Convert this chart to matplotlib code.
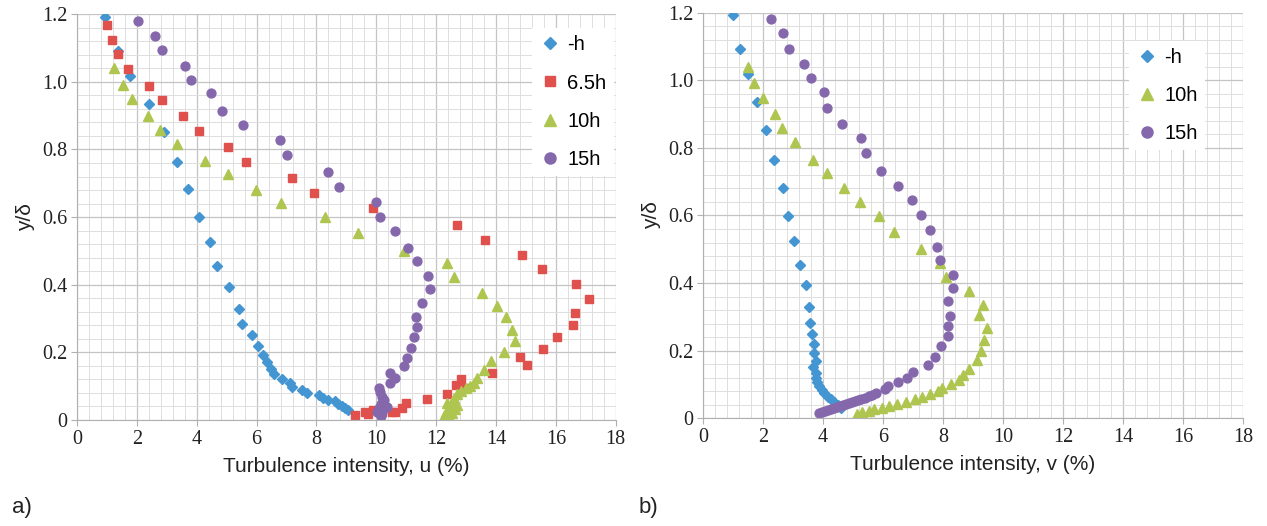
import numpy as np
import matplotlib
matplotlib.use('Agg')
import matplotlib.pyplot as plt
from matplotlib.ticker import MultipleLocator, FuncFormatter

# ---- data ----
# panel a) streamwise turbulence intensity u (%) vs y/delta
u_h_x = [0.94, 1.36, 1.77, 2.42, 2.91, 3.35, 3.71, 4.09, 4.43, 4.68, 5.09, 5.42, 5.50, 5.83, 6.06, 6.22,
         6.34, 6.47, 6.58, 6.86, 7.11, 7.17, 7.53, 7.69, 8.07, 8.23, 8.39, 8.62, 8.73, 8.84, 8.95, 9.05]
u_h_y = [1.192, 1.092, 1.017, 0.935, 0.852, 0.763, 0.683, 0.599, 0.525, 0.455, 0.394, 0.329, 0.284, 0.251,
         0.220, 0.193, 0.171, 0.152, 0.135, 0.121, 0.108, 0.098, 0.088, 0.080, 0.074, 0.066, 0.060, 0.055,
         0.047, 0.041, 0.035, 0.030]

u_65_x = [0.99, 1.16, 1.38, 1.71, 2.40, 2.85, 3.53, 4.06, 5.05, 5.65, 7.17, 7.93, 9.88, 12.68, 13.63, 14.86,
          15.55, 16.67, 17.11, 16.63, 16.58, 16.04, 15.57, 14.80, 15.03, 13.88, 12.84, 12.66, 12.95, 12.35,
          11.70, 10.98, 10.85, 10.62, 10.51, 10.20, 9.90, 9.72, 9.63, 9.29]
u_65_y = [1.168, 1.125, 1.081, 1.037, 0.989, 0.945, 0.900, 0.856, 0.807, 0.764, 0.715, 0.671, 0.626, 0.578,
          0.532, 0.488, 0.447, 0.402, 0.357, 0.316, 0.281, 0.245, 0.210, 0.185, 0.163, 0.140, 0.121, 0.104,
          0.095, 0.076, 0.061, 0.051, 0.036, 0.025, 0.023, 0.025, 0.030, 0.017, 0.023, 0.014]

u_10_x = [1.25, 1.52, 1.84, 2.36, 2.78, 3.33, 4.27, 5.06, 5.98, 6.81, 8.29, 9.39, 10.91, 12.36, 12.61, 13.53,
          14.04, 14.32, 14.54, 14.65, 14.26, 13.82, 13.59, 13.37, 13.26, 13.13, 12.98, 12.84, 12.70, 12.61,
          12.53, 12.37, 12.68, 12.48, 12.64, 12.34, 12.53, 12.42, 12.26]
u_10_y = [1.040, 0.990, 0.948, 0.900, 0.857, 0.817, 0.766, 0.726, 0.680, 0.641, 0.601, 0.552, 0.500, 0.463,
          0.422, 0.377, 0.338, 0.305, 0.267, 0.234, 0.201, 0.174, 0.148, 0.123, 0.110, 0.100, 0.094, 0.086,
          0.076, 0.064, 0.054, 0.049, 0.044, 0.036, 0.032, 0.025, 0.020, 0.012, 0.013]

u_15_x = [2.04, 2.60, 2.84, 3.62, 3.81, 4.47, 4.85, 5.56, 6.78, 7.00, 8.37, 8.74, 10.00, 10.11, 10.63, 11.06,
          11.37, 11.73, 11.81, 11.51, 11.31, 11.35, 11.25, 11.16, 11.04, 10.93, 10.47, 10.64, 10.45, 10.09,
          10.12, 10.20, 10.25, 10.14, 10.37, 10.09, 10.20, 10.03, 10.14]
u_15_y = [1.180, 1.137, 1.093, 1.047, 1.005, 0.966, 0.915, 0.871, 0.828, 0.785, 0.733, 0.689, 0.645, 0.601,
          0.558, 0.509, 0.469, 0.426, 0.386, 0.347, 0.304, 0.275, 0.244, 0.214, 0.183, 0.159, 0.138, 0.123,
          0.108, 0.096, 0.082, 0.069, 0.059, 0.046, 0.039, 0.036, 0.025, 0.025, 0.012]

# panel b) vertical turbulence intensity v (%) vs y/delta
v_h_x = [1.00, 1.22, 1.49, 1.81, 2.09, 2.38, 2.66, 2.82, 3.04, 3.22, 3.43, 3.54, 3.55, 3.64, 3.69, 3.71,
         3.76, 3.65, 3.76, 3.78, 3.81, 3.87, 3.95, 4.03, 4.15, 4.26, 4.37, 4.51, 4.61]
v_h_y = [1.192, 1.092, 1.019, 0.936, 0.853, 0.763, 0.682, 0.599, 0.525, 0.454, 0.393, 0.328, 0.283, 0.249,
         0.219, 0.192, 0.170, 0.151, 0.135, 0.119, 0.107, 0.096, 0.084, 0.074, 0.064, 0.056, 0.049, 0.039, 0.031]

v_10_x = [1.50, 1.70, 2.01, 2.41, 2.63, 3.07, 3.66, 4.12, 4.69, 5.23, 5.88, 6.38, 7.27, 7.91, 8.09, 8.86,
          9.32, 9.21, 9.47, 9.38, 9.26, 9.12, 8.88, 8.66, 8.53, 8.28, 7.95, 7.83, 7.55, 7.30, 7.07, 6.76,
          6.46, 6.21, 5.98, 5.69, 5.54, 5.31, 5.14]
v_10_y = [1.038, 0.991, 0.947, 0.899, 0.858, 0.817, 0.765, 0.726, 0.680, 0.641, 0.599, 0.550, 0.500, 0.460,
          0.419, 0.378, 0.336, 0.305, 0.266, 0.231, 0.200, 0.172, 0.145, 0.128, 0.113, 0.101, 0.089, 0.080,
          0.071, 0.064, 0.057, 0.049, 0.041, 0.036, 0.030, 0.027, 0.022, 0.018, 0.014]

v_15_x = [2.26, 2.65, 2.87, 3.38, 3.60, 4.02, 4.13, 4.62, 5.25, 5.43, 5.93, 6.50, 6.98, 7.25, 7.58, 7.81,
          7.91, 8.32, 8.33, 8.15, 8.23, 8.15, 8.15, 7.93, 7.73, 7.50, 7.01, 6.79, 6.50, 6.15, 6.06, 5.76,
          5.63, 5.52, 5.40, 5.27, 5.15, 5.05, 4.95, 4.85, 4.75, 4.65, 4.55, 4.45, 4.35, 4.25, 4.15, 4.05,
          3.95, 3.85]
v_15_y = [1.181, 1.139, 1.093, 1.049, 1.006, 0.966, 0.917, 0.871, 0.828, 0.785, 0.733, 0.688, 0.646, 0.601,
          0.557, 0.508, 0.468, 0.424, 0.386, 0.347, 0.303, 0.273, 0.243, 0.214, 0.182, 0.158, 0.136, 0.119,
          0.107, 0.096, 0.086, 0.076, 0.069, 0.065, 0.061, 0.057, 0.053, 0.050, 0.047, 0.044, 0.041, 0.038,
          0.035, 0.033, 0.030, 0.027, 0.024, 0.021, 0.019, 0.016]

blue = '#4496D2'
red = '#E0514D'
green = '#AEC64F'
purple = '#8568AC'

sans = 'Liberation Sans'
serif = 'Liberation Serif'

# tick labels are in a Times-like serif; everything else names the sans family
plt.rcParams['font.family'] = serif

fig = plt.figure(figsize=(12.67, 5.26), dpi=100)


def style_axes(ax, xlabel):
    ax.set_xlim(0, 18)
    ax.set_ylim(0, 1.2)
    ax.xaxis.set_major_locator(MultipleLocator(2))
    ax.xaxis.set_minor_locator(MultipleLocator(0.4))
    ax.yaxis.set_major_locator(MultipleLocator(0.2))
    ax.yaxis.set_minor_locator(MultipleLocator(0.04))
    ax.yaxis.set_major_formatter(FuncFormatter(lambda v, p: '0' if abs(v) < 1e-9 else f'{v:.1f}'))
    ax.grid(which='major', color='#C4C4C4', lw=0.9)
    ax.grid(which='minor', color='#DEDEDE', lw=0.7)
    ax.set_axisbelow(True)
    for s in ['top', 'right']:
        ax.spines[s].set_visible(False)
    for s in ['left', 'bottom']:
        ax.spines[s].set_color('#B0B0B0')
    ax.tick_params(which='major', length=4, width=0.8, color='#B0B0B0', pad=3, labelsize=14.5,
                   labelcolor='#222222')
    ax.tick_params(which='minor', length=0)
    ax.set_xlabel(xlabel, fontsize=15, family=sans, color='#222222', labelpad=6)
    ax.set_ylabel('y/δ', fontsize=15, family=sans, color='#222222', labelpad=5)


ax1 = fig.add_axes([0.0608, 0.2015, 0.4252, 0.7715])
ax1.plot(u_h_x, u_h_y, ls='none', marker='D', ms=4.6, color=blue, mec=blue, label='-h')
ax1.plot(u_65_x, u_65_y, ls='none', marker='s', ms=6.0, color=red, mec=red, label='6.5h')
ax1.plot(u_10_x, u_10_y, ls='none', marker='^', ms=6.8, color=green, mec=green, label='10h')
ax1.plot(u_15_x, u_15_y, ls='none', marker='o', ms=6.4, color=purple, mec=purple, label='15h')
style_axes(ax1, 'Turbulence intensity, u (%)')
ax1.legend(loc='upper left', bbox_to_anchor=(0.826, 0.99), frameon=True, fancybox=False,
           framealpha=1, edgecolor='none', facecolor='white', prop={'family': sans, 'size': 14.5},
           labelspacing=0.95, handletextpad=0.3, handlelength=1.1, borderpad=0.35, markerscale=1.25)

ax2 = fig.add_axes([0.5549, 0.2048, 0.4262, 0.7711])
ax2.plot(v_h_x, v_h_y, ls='none', marker='D', ms=4.6, color=blue, mec=blue, label='-h')
ax2.plot(v_10_x, v_10_y, ls='none', marker='^', ms=6.8, color=green, mec=green, label='10h')
ax2.plot(v_15_x, v_15_y, ls='none', marker='o', ms=6.4, color=purple, mec=purple, label='15h')
style_axes(ax2, 'Turbulence intensity, v (%)')
ax2.legend(loc='upper left', bbox_to_anchor=(0.77, 0.955), frameon=True, fancybox=False,
           framealpha=1, edgecolor='none', facecolor='white', prop={'family': sans, 'size': 14.5},
           labelspacing=0.95, handletextpad=0.3, handlelength=1.1, borderpad=0.35, markerscale=1.25)

fig.text(22 / 1267, 1 - 508 / 526, 'a)', fontsize=16, family=sans, color='#222222', ha='center', va='center')
fig.text(648 / 1267, 1 - 508 / 526, 'b)', fontsize=16, family=sans, color='#222222', ha='center', va='center')

fig.savefig('out.png', dpi=100)
